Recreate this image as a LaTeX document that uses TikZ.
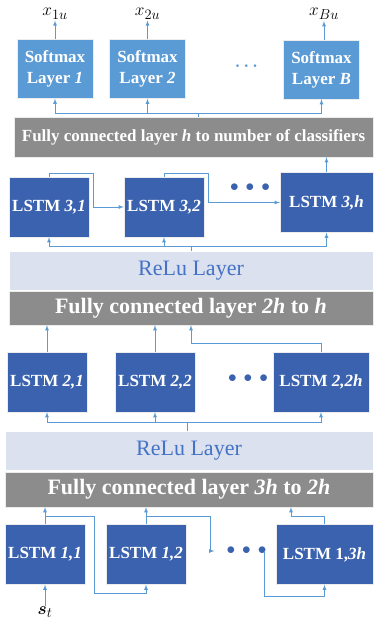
\documentclass[tikz,border=0pt]{standalone}
\usepackage{amsmath,amssymb}
\usepackage{fontspec}
\setmainfont{Liberation Serif}
\usepackage{tikz}
\usetikzlibrary{arrows, positioning}
\definecolor{smblue}{HTML}{5B9BD5}
\definecolor{lstmblue}{HTML}{3A62AF}
\definecolor{fcgray}{HTML}{8C8C8C}
\definecolor{relubg}{HTML}{DCE1EF}
\definecolor{relutext}{HTML}{4472C4}
\definecolor{wire}{HTML}{5B9BD5}
\tikzstyle{arrow} = [->, >=latex, draw=wire, line width=0.8pt]
\tikzstyle{wireline} = [draw=wire, line width=0.8pt]
\tikzstyle{softmax} = [rectangle, fill=smblue, draw=white!85!gray, text=white, font=\fontsize{17}{21}\selectfont\bfseries, align=center, minimum width=76pt, minimum height=59pt, inner sep=0pt]
\tikzstyle{lstm} = [rectangle, fill=lstmblue, draw=white!85!gray, text=white, font=\fontsize{17}{20}\selectfont\bfseries, minimum width=80pt, minimum height=60pt, inner sep=0pt]
\tikzstyle{fcbar} = [rectangle, fill=fcgray, draw=white!85!gray, text=white, font=\fontsize{22}{26}\selectfont\bfseries, inner sep=0pt]
\tikzstyle{relu} = [rectangle, fill=relubg, draw=white, text=relutext, font=\fontsize{22}{26}\selectfont, inner sep=0pt]
\tikzstyle{outlabel} = [font=\fontsize{19}{22}\selectfont, inner sep=1pt]
\tikzstyle{dotsrow} = [text=lstmblue, font=\fontsize{17}{20}\selectfont, inner sep=0pt]

\begin{document}
\begin{tikzpicture}[x=1pt, y=-1pt]
  \useasboundingbox (0,0) rectangle (373,626);

  % Output layer
  \node[softmax] (sm1) at (55, 69) {Softmax\\Layer \textit{1}};
  \node[softmax] (sm2) at (147.5, 69) {Softmax\\Layer \textit{2}};
  \node[softmax] (smB) at (321.5, 69.5) {Softmax\\Layer \textit{B}};
  \node[dotsrow, text=smblue] (smdots) at (248, 66) {$\boldsymbol{\cdots}$};

  \node[outlabel, anchor=base] (x1) at (55, 16) {$x_{1u}$};
  \node[outlabel, anchor=base] (x2) at (147.5, 16) {$x_{2u}$};
  \node[outlabel, anchor=base] (xB) at (324, 16) {$x_{Bu}$};

  \draw[arrow] (sm1) -- (x1);
  \draw[arrow] (sm2) -- (x2);
  \draw[arrow] (smB.north -| xB) -- (xB);

  \node[fcbar, font=\fontsize{17}{20}\selectfont\bfseries, minimum width=359pt, minimum height=40pt] (fc1) at (193.5, 137) {Fully connected layer \textit{h} to number of classifiers};

  \coordinate (bus1) at (198, 113);
  \draw[wireline] (fc1.north -| bus1) -- (bus1);
  \draw[arrow] (bus1) -| (sm1);
  \draw[arrow] (bus1) -| (sm2);
  \draw[arrow] (bus1) -| (smB);

  % Third LSTM layer
  \node[lstm] (l31) at (49, 207) {LSTM \textit{3,1}};
  \node[lstm] (l32) at (164, 207) {LSTM \textit{3,2}};
  \node[lstm, minimum width=93pt] (l3h) at (326.5, 202.5) {LSTM \textit{3,h}};
  \node[dotsrow] (dots3) at (250, 188) {$\bullet$\hspace{7pt}$\bullet$\hspace{7pt}$\bullet$};

  \draw[arrow] (l3h) -- (l3h |- fc1.south);

  \coordinate (r31) at ([xshift=4pt]l31.east);
  \coordinate (r32) at ([xshift=4pt]l32.east);
  \draw[arrow] (l31.north) -- ++(0,-3) -| (r31) -- (l32.west);
  \draw[arrow] (l32.north) -- ++(0,-3) -| (r32 |- l3h.west) -- (l3h.west);

  \node[relu, minimum width=364pt, minimum height=39pt] (relu1) at (191, 270.5) {ReLu Layer};
  \node[fcbar, minimum width=364pt, minimum height=34pt] (fc2) at (191, 308) {Fully connected layer \textit{2h} to \textit{h}};

  \coordinate (bus3) at (191, 246);
  \draw[wireline] (relu1.north -| bus3) -- (bus3);
  \draw[arrow] (bus3) -| (l31);
  \draw[arrow] (bus3) -| (l32);
  \draw[arrow] (bus3) -| (l3h);

  % Second LSTM layer
  \node[lstm] (l21) at (47, 382) {LSTM \textit{2,1}};
  \node[lstm] (l22) at (155, 382) {LSTM \textit{2,2}};
  \node[lstm, minimum width=96pt] (l22h) at (321, 382) {LSTM \textit{2,2h}};
  \node[dotsrow] (dots2) at (248, 379) {$\bullet$\hspace{7pt}$\bullet$\hspace{7pt}$\bullet$};

  \draw[arrow] (l21) -- (l21 |- fc2.south);
  \draw[arrow] (l22) -- (l22 |- fc2.south);
  \coordinate (up22h) at (191, 343);
  \draw[arrow] (l22h.north) |- (up22h) -- (up22h |- fc2.south);

  \node[relu, minimum width=368pt, minimum height=39pt] (relu2) at (189, 450.5) {ReLu Layer};
  \node[fcbar, minimum width=368pt, minimum height=35pt] (fc3) at (189, 489.5) {Fully connected layer \textit{3h} to \textit{2h}};

  \coordinate (bus2) at (187, 422);
  \draw[wireline] (relu2.north -| bus2) -- (bus2);
  \draw[arrow] (bus2) -| (l21);
  \draw[arrow] (bus2) -| (l22);
  \draw[arrow] (bus2) -| (l22h);

  % First LSTM layer
  \node[lstm] (l11) at (45, 554.5) {LSTM \textit{1,1}};
  \node[lstm] (l12) at (146, 554.5) {LSTM \textit{1,2}};
  \node[lstm, minimum width=97pt] (l13h) at (324.5, 554.5) {LSTM 1,\textit{3h}};
  \node[dotsrow] (dots1) at (246.5, 551) {$\bullet$\hspace{7pt}$\bullet$\hspace{7pt}$\bullet$};

  \node[outlabel] (st) at (45, 612) {$\boldsymbol{s}_t$};
  \draw[arrow] (st) -- (l11);

  \draw[arrow] (l11) -- (l11 |- fc3.south);
  \draw[arrow] (l12) -- (l12 |- fc3.south);

  \coordinate (j11) at (45, 516);
  \coordinate (d11) at (94, 593);
  \draw[arrow] (j11) -| (d11) -| (l12);

  \coordinate (j12) at (146, 516);
  \coordinate (d12) at (210, 551);
  \draw[arrow] (j12) -| (d12) -- ([xshift=-12pt]dots1.west);

  \coordinate (lastdot) at ([xshift=-2.5pt]dots1.east);
  \coordinate (d13) at (262, 596);
  \draw[arrow] (lastdot) -- (lastdot |- d13) -| (l13h);

  \coordinate (up13h) at (291, 516);
  \draw[arrow] (l13h.north) |- (up13h) -- (up13h |- fc3.south);
\end{tikzpicture}
\end{document}
